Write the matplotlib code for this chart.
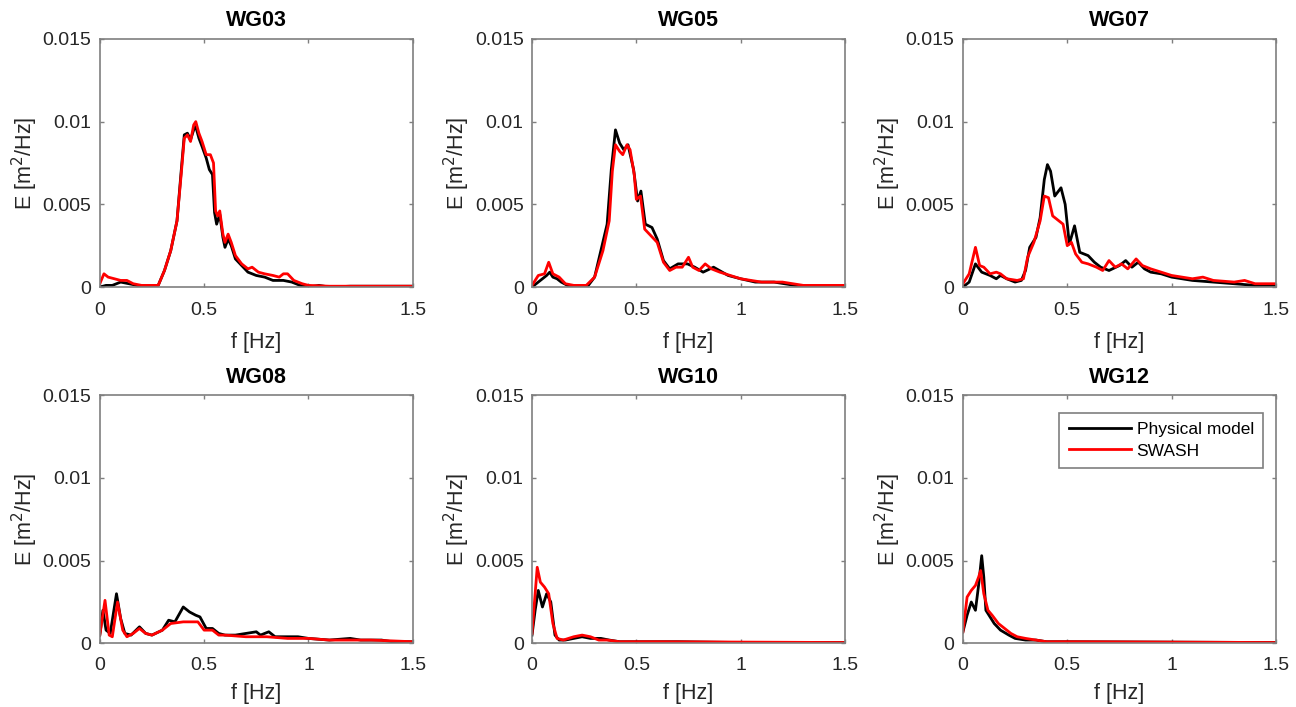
#!/usr/bin/env python3

import matplotlib
matplotlib.use('Agg')
import matplotlib.pyplot as plt

plt.rcParams['font.family'] = ['Liberation Sans', 'DejaVu Sans']

# ---- data (f [Hz], E [m^2/Hz]) ----
wg03_phys_f = [0.00, 0.03, 0.06, 0.10, 0.14, 0.18, 0.24, 0.28, 0.31, 0.34, 0.37, 0.39, 0.405, 0.42, 0.435,
               0.45, 0.46, 0.475, 0.49, 0.51, 0.525, 0.54, 0.55, 0.56, 0.575, 0.59, 0.60, 0.615, 0.63, 0.65,
               0.68, 0.71, 0.75, 0.79, 0.83, 0.88, 0.92, 0.96, 1.00, 1.05, 1.10, 1.20, 1.30, 1.40, 1.50]
wg03_phys_E = [0.0000, 0.0001, 0.0001, 0.0003, 0.0002, 0.0001, 0.0001, 0.0001, 0.0010, 0.0022, 0.0040, 0.0070,
               0.0092, 0.0093, 0.0089, 0.0095, 0.0097, 0.0090, 0.0085, 0.0078, 0.0071, 0.0068, 0.0045, 0.0038,
               0.0044, 0.0030, 0.0024, 0.0029, 0.0025, 0.0017, 0.0013, 0.0009, 0.0007, 0.0006, 0.0004, 0.0004,
               0.0003, 0.0001, 0.0000, 0.0001, 0.0000, 0.00005, 0.00005, 0.00005, 0.00005]
wg03_swash_f = [0.00, 0.02, 0.04, 0.07, 0.10, 0.13, 0.16, 0.20, 0.28, 0.31, 0.34, 0.37, 0.39, 0.405, 0.42,
                0.435, 0.45, 0.46, 0.475, 0.49, 0.51, 0.53, 0.545, 0.555, 0.565, 0.575, 0.59, 0.60, 0.615,
                0.63, 0.65, 0.68, 0.71, 0.73, 0.76, 0.79, 0.83, 0.86, 0.88, 0.90, 0.93, 0.97, 1.00, 1.10,
                1.20, 1.30, 1.40, 1.50]
wg03_swash_E = [0.0002, 0.0008, 0.0006, 0.0005, 0.0004, 0.0004, 0.0002, 0.0001, 0.0001, 0.0010, 0.0022, 0.0040,
                0.0068, 0.0090, 0.0092, 0.0088, 0.0098, 0.0100, 0.0093, 0.0088, 0.0080, 0.0080, 0.0075, 0.0046,
                0.0043, 0.0046, 0.0032, 0.0027, 0.0032, 0.0027, 0.0019, 0.0014, 0.0011, 0.0012, 0.0009, 0.0008,
                0.0007, 0.0006, 0.0008, 0.0008, 0.0004, 0.0002, 0.0001, 0.00005, 0.00005, 0.00005, 0.00005,
                0.00005]

wg05_phys_f = [0.00, 0.03, 0.07, 0.085, 0.10, 0.12, 0.14, 0.17, 0.22, 0.27, 0.30, 0.33, 0.36, 0.38, 0.40,
               0.42, 0.44, 0.46, 0.487, 0.506, 0.522, 0.543, 0.575, 0.60, 0.63, 0.66, 0.70, 0.745, 0.78,
               0.82, 0.87, 0.94, 1.00, 1.07, 1.16, 1.26, 1.39, 1.50]
wg05_phys_E = [0.0000, 0.0003, 0.0007, 0.0009, 0.0006, 0.0005, 0.0003, 0.0001, 0.0001, 0.0001, 0.0006, 0.0022,
               0.0038, 0.0071, 0.0095, 0.0087, 0.0083, 0.0086, 0.0071, 0.0052, 0.0058, 0.0038, 0.0036, 0.0029,
               0.0016, 0.0011, 0.0014, 0.0014, 0.0012, 0.0009, 0.0012, 0.0007, 0.0005, 0.0003, 0.0003, 0.0001,
               0.0001, 0.0001]
wg05_swash_f = [0.00, 0.03, 0.06, 0.08, 0.10, 0.13, 0.16, 0.20, 0.26, 0.30, 0.34, 0.37, 0.385, 0.40, 0.42,
                0.435, 0.455, 0.47, 0.49, 0.50, 0.52, 0.54, 0.57, 0.60, 0.63, 0.66, 0.69, 0.72, 0.75, 0.77,
                0.80, 0.83, 0.86, 0.90, 0.95, 1.00, 1.10, 1.20, 1.30, 1.50]
wg05_swash_E = [0.0001, 0.0007, 0.0008, 0.0015, 0.0008, 0.0006, 0.0002, 0.0001, 0.0001, 0.0006, 0.0022, 0.0040,
                0.0070, 0.0086, 0.0082, 0.0080, 0.0086, 0.0083, 0.0068, 0.0053, 0.0055, 0.0035, 0.0031, 0.0027,
                0.0015, 0.0010, 0.0012, 0.0012, 0.0018, 0.0012, 0.0010, 0.0014, 0.0011, 0.0009, 0.0007, 0.0005,
                0.0003, 0.0003, 0.0001, 0.0001]

wg07_phys_f = [0.00, 0.03, 0.06, 0.09, 0.13, 0.16, 0.18, 0.21, 0.25, 0.28, 0.30, 0.32, 0.35, 0.37, 0.39,
               0.405, 0.42, 0.44, 0.47, 0.49, 0.51, 0.535, 0.56, 0.60, 0.63, 0.66, 0.70, 0.75, 0.78, 0.81,
               0.84, 0.87, 0.90, 0.95, 1.00, 1.05, 1.10, 1.20, 1.30, 1.40, 1.50]
wg07_phys_E = [0.0000, 0.0003, 0.0014, 0.0009, 0.0007, 0.0005, 0.0007, 0.0005, 0.0003, 0.0004, 0.0010, 0.0024,
               0.0030, 0.0042, 0.0065, 0.0074, 0.0070, 0.0055, 0.0060, 0.0050, 0.0026, 0.0037, 0.0021, 0.0019,
               0.0015, 0.0012, 0.0010, 0.0013, 0.0016, 0.0012, 0.0015, 0.0011, 0.0009, 0.0008, 0.0006, 0.0005,
               0.0004, 0.0003, 0.0002, 0.0001, 0.0001]
wg07_swash_f = [0.00, 0.03, 0.06, 0.08, 0.10, 0.13, 0.16, 0.18, 0.21, 0.26, 0.29, 0.31, 0.34, 0.37, 0.39,
                0.41, 0.43, 0.46, 0.48, 0.50, 0.52, 0.54, 0.57, 0.60, 0.64, 0.67, 0.70, 0.73, 0.76, 0.79,
                0.83, 0.86, 0.90, 0.95, 1.00, 1.10, 1.15, 1.20, 1.30, 1.35, 1.40, 1.50]
wg07_swash_E = [0.0002, 0.0008, 0.0024, 0.0013, 0.0012, 0.0008, 0.0009, 0.0008, 0.0005, 0.0004, 0.0005, 0.0018,
                0.0027, 0.0040, 0.0055, 0.0054, 0.0043, 0.0040, 0.0038, 0.0025, 0.0027, 0.0020, 0.0015, 0.0014,
                0.0012, 0.0010, 0.0016, 0.0012, 0.0014, 0.0011, 0.0017, 0.0013, 0.0011, 0.0009, 0.0007, 0.0005,
                0.0006, 0.0004, 0.0003, 0.0004, 0.0002, 0.0002]

wg08_phys_f = [0.00, 0.015, 0.03, 0.05, 0.08, 0.10, 0.12, 0.15, 0.19, 0.22, 0.25, 0.30, 0.33, 0.36, 0.40,
               0.43, 0.46, 0.48, 0.51, 0.54, 0.57, 0.60, 0.65, 0.70, 0.75, 0.77, 0.81, 0.84, 0.90, 0.95,
               1.00, 1.10, 1.20, 1.25, 1.35, 1.40, 1.50]
wg08_phys_E = [0.0005, 0.0020, 0.0008, 0.0006, 0.0030, 0.0015, 0.0006, 0.0005, 0.0010, 0.0006, 0.0005, 0.0008,
               0.0014, 0.0013, 0.0022, 0.0019, 0.0017, 0.0016, 0.0009, 0.0009, 0.0006, 0.0005, 0.0005, 0.0006,
               0.0007, 0.0005, 0.0007, 0.0004, 0.0004, 0.0004, 0.0003, 0.0002, 0.0003, 0.0002, 0.0002, 0.0001,
               0.0001]
wg08_swash_f = [0.00, 0.025, 0.045, 0.06, 0.085, 0.11, 0.13, 0.16, 0.19, 0.22, 0.25, 0.30, 0.34, 0.40, 0.45,
                0.47, 0.50, 0.54, 0.57, 0.60, 0.70, 0.80, 0.90, 1.00, 1.10, 1.20, 1.30, 1.50]
wg08_swash_E = [0.0005, 0.0026, 0.0005, 0.0004, 0.0025, 0.0008, 0.0004, 0.0006, 0.0009, 0.0006, 0.0005, 0.0008,
                0.0012, 0.0013, 0.0013, 0.0013, 0.0008, 0.0008, 0.0005, 0.0005, 0.0004, 0.0004, 0.0003, 0.0003,
                0.0002, 0.0002, 0.0002, 0.0001]

wg10_phys_f = [0.00, 0.015, 0.03, 0.05, 0.07, 0.09, 0.11, 0.13, 0.16, 0.20, 0.24, 0.28, 0.33, 0.37, 0.42,
               0.50, 0.70, 1.00, 1.50]
wg10_phys_E = [0.0005, 0.0020, 0.0032, 0.0022, 0.0030, 0.0025, 0.0005, 0.0002, 0.0002, 0.0003, 0.0004, 0.0003,
               0.0003, 0.0002, 0.0001, 0.0001, 0.0001, 0.00005, 0.00005]
wg10_swash_f = [0.00, 0.015, 0.025, 0.04, 0.06, 0.08, 0.10, 0.12, 0.15, 0.20, 0.24, 0.28, 0.32, 0.36, 0.42,
                0.60, 1.50]
wg10_swash_E = [0.0006, 0.0030, 0.0046, 0.0037, 0.0034, 0.0030, 0.0012, 0.0003, 0.0002, 0.0004, 0.0005, 0.0004,
                0.0002, 0.0002, 0.0001, 0.0001, 0.00005]

wg12_phys_f = [0.00, 0.02, 0.04, 0.06, 0.075, 0.09, 0.10, 0.11, 0.13, 0.15, 0.18, 0.22, 0.25, 0.30, 0.35,
               0.40, 0.50, 1.50]
wg12_phys_E = [0.0007, 0.0017, 0.0025, 0.0020, 0.0035, 0.0053, 0.0040, 0.0020, 0.0016, 0.0012, 0.0008, 0.0005,
               0.0003, 0.0002, 0.0002, 0.0001, 0.0001, 0.00005]
wg12_swash_f = [0.00, 0.02, 0.04, 0.06, 0.075, 0.085, 0.10, 0.12, 0.14, 0.17, 0.20, 0.23, 0.26, 0.30, 0.35,
                0.40, 0.50, 1.50]
wg12_swash_E = [0.0007, 0.0028, 0.0032, 0.0035, 0.0040, 0.0044, 0.0030, 0.0020, 0.0017, 0.0012, 0.0009, 0.0006,
                0.0004, 0.0003, 0.0002, 0.0001, 0.0001, 0.00005]

gauges = ['WG03', 'WG05', 'WG07', 'WG08', 'WG10', 'WG12']
phys = [
    (wg03_phys_f, wg03_phys_E), (wg05_phys_f, wg05_phys_E), (wg07_phys_f, wg07_phys_E),
    (wg08_phys_f, wg08_phys_E), (wg10_phys_f, wg10_phys_E), (wg12_phys_f, wg12_phys_E),
]
swash = [
    (wg03_swash_f, wg03_swash_E), (wg05_swash_f, wg05_swash_E), (wg07_swash_f, wg07_swash_E),
    (wg08_swash_f, wg08_swash_E), (wg10_swash_f, wg10_swash_E), (wg12_swash_f, wg12_swash_E),
]

x_ticks = [0, 0.5, 1, 1.5]
x_ticklabels = ['0', '0.5', '1', '1.5']
y_ticks = [0, 0.005, 0.01, 0.015]
y_ticklabels = ['0', '0.005', '0.01', '0.015']

fig = plt.figure(figsize=(12.96, 7.07), dpi=100)

# axes positions (fig fraction) to mimic the MATLAB subplot layout
lefts = [0.077, 0.4105, 0.743]
bottoms = [0.594, 0.090]
w, h = 0.2415, 0.351
xtick_pads = [11, 10]
xlabel_pads = [9, 6]

gray = '#7f7f7f'
txt = '#262626'
for i, name in enumerate(gauges):
    row, col = divmod(i, 3)
    ax = fig.add_axes([lefts[col], bottoms[row], w, h])
    ax.plot(phys[i][0], phys[i][1], color='black', lw=2.0, label='Physical model')
    ax.plot(swash[i][0], swash[i][1], color='red', lw=2.0, label='SWASH')

    ax.set_xlim(0, 1.5)
    ax.set_ylim(0, 0.015)
    ax.set_xticks(x_ticks)
    ax.set_xticklabels(x_ticklabels)
    ax.set_yticks(y_ticks)
    ax.set_yticklabels(y_ticklabels)
    ax.tick_params(direction='in', length=3, width=1, colors=gray, labelcolor=txt,
                   labelsize=14, top=True, right=True)
    ax.tick_params(axis='x', pad=xtick_pads[row])
    ax.tick_params(axis='y', pad=6)
    for sp in ax.spines.values():
        sp.set_color(gray)
        sp.set_linewidth(1.2)

    ax.set_title(name, fontsize=15.5, fontweight='bold', pad=9)
    ax.set_xlabel('f [Hz]', fontsize=15.5, color=txt, labelpad=xlabel_pads[row])
    ax.set_ylabel('E [m$^2$/Hz]', fontsize=15.5, color=txt, labelpad=2)

    if name == 'WG12':
        leg = ax.legend(loc='upper right', bbox_to_anchor=(0.96, 0.93), fontsize=12.5,
                        fancybox=False, framealpha=1, handlelength=3.6, borderaxespad=0,
                        handletextpad=0.3, labelspacing=0.35, borderpad=0.55)
        leg.get_frame().set_edgecolor(gray)
        leg.get_frame().set_linewidth(1.2)

fig.savefig('out.png', dpi=100)
print(" <.> done")
